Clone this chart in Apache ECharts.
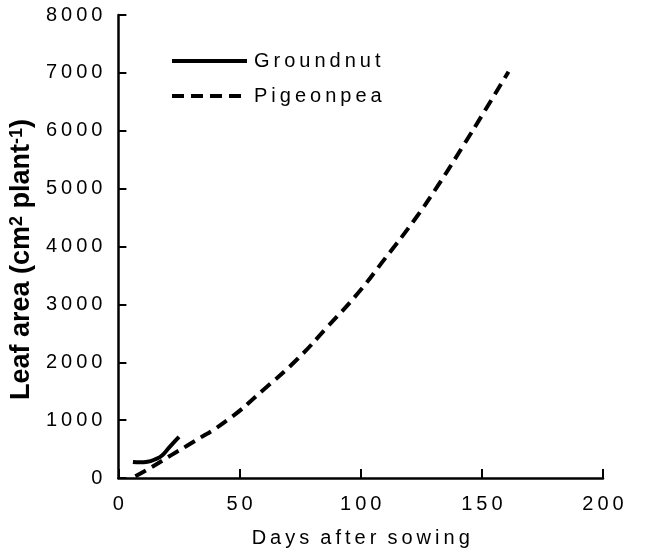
<!DOCTYPE html>
<html>
<head>
<meta charset="utf-8">
<script src="https://cdn.jsdelivr.net/npm/echarts@6/dist/echarts.min.js"></script>
<style>
html,body{margin:0;padding:0;background:#fff;}
#chart{width:646px;height:553px;}
</style>
</head>
<body>
<div id="chart"></div>
<script>
const groundnutDays = [6, 9, 12, 15, 18, 21, 25];
const groundnutLeaf = [275, 270, 280, 320, 390, 530, 710];
const pigeonpeaDays = [7, 14, 22, 30, 45, 60, 74, 86, 99, 110, 122, 132, 142, 151, 161];
const pigeonpeaLeaf = [30, 195, 400, 600, 1000, 1530, 2060, 2600, 3200, 3790, 4450, 5060, 5720, 6330, 7020];
const seriesNames = ['Groundnut', 'Pigeonpea'];
const xAxisTitle = 'Days after sowing';

const sp = s => String(s).split('').join('\u2009');
const FONT = 'Liberation Sans, Arial, sans-serif';

const chart = echarts.init(document.getElementById('chart'));
chart.setOption({
  animation: false,
  backgroundColor: '#fff',
  grid: { left: 118, right: 43, top: 15, bottom: 73, containLabel: false },
  legend: {
    orient: 'vertical',
    left: 165,
    top: 46,
    itemWidth: 75,
    itemHeight: 22,
    itemGap: 15,
    itemStyle: { opacity: 0 },
    lineStyle: { width: 4 },
    textStyle: { fontSize: 20, color: '#000', fontFamily: FONT, padding: [0, 0, 0, 2] },
    formatter: n => sp(n),
    data: seriesNames
  },
  xAxis: {
    type: 'value',
    min: 0, max: 200, interval: 50,
    name: sp(xAxisTitle).replace(/\u2009 \u2009/g, '  '),
    nameLocation: 'middle',
    nameGap: 50,
    nameTextStyle: { fontSize: 20, color: '#000', fontFamily: FONT },
    axisLine: { lineStyle: { color: '#000', width: 2.5 } },
    axisTick: { inside: true, length: 9, lineStyle: { color: '#000', width: 2 } },
    axisLabel: { fontSize: 20, color: '#000', fontFamily: FONT, margin: 16, formatter: v => sp(v) },
    splitLine: { show: false }
  },
  yAxis: {
    type: 'value',
    min: 0, max: 8000, interval: 1000,
    name: '{b|Leaf area (cm}{s|2}{b| plant}{s|-1}{b|)}',
    nameLocation: 'middle',
    nameGap: 74,
    nameTextStyle: {
      padding: [0, 26, 0, 0],
      rich: {
        b: { fontSize: 27, fontWeight: 'bold', color: '#000', fontFamily: FONT },
        s: { fontSize: 18, fontWeight: 'bold', color: '#000', fontFamily: FONT, verticalAlign: 'top' }
      }
    },
    axisLine: { lineStyle: { color: '#000', width: 2.5 } },
    axisTick: { inside: true, length: 8, lineStyle: { color: '#000', width: 2 } },
    axisLabel: { fontSize: 20, color: '#000', fontFamily: FONT, margin: 16, formatter: v => sp(v) },
    splitLine: { show: false }
  },
  series: [
    {
      name: seriesNames[0],
      type: 'line',
      smooth: true,
      symbol: 'none',
      data: groundnutDays.map((d, i) => [d, groundnutLeaf[i]]),
      lineStyle: { color: '#000', width: 4, type: 'solid' },
      itemStyle: { color: '#000' }
    },
    {
      name: seriesNames[1],
      type: 'line',
      smooth: true,
      symbol: 'none',
      data: pigeonpeaDays.map((d, i) => [d, pigeonpeaLeaf[i]]),
      lineStyle: { color: '#000', width: 4, type: [12, 7] },
      itemStyle: { color: '#000' }
    }
  ]
});
</script>
</body>
</html>
